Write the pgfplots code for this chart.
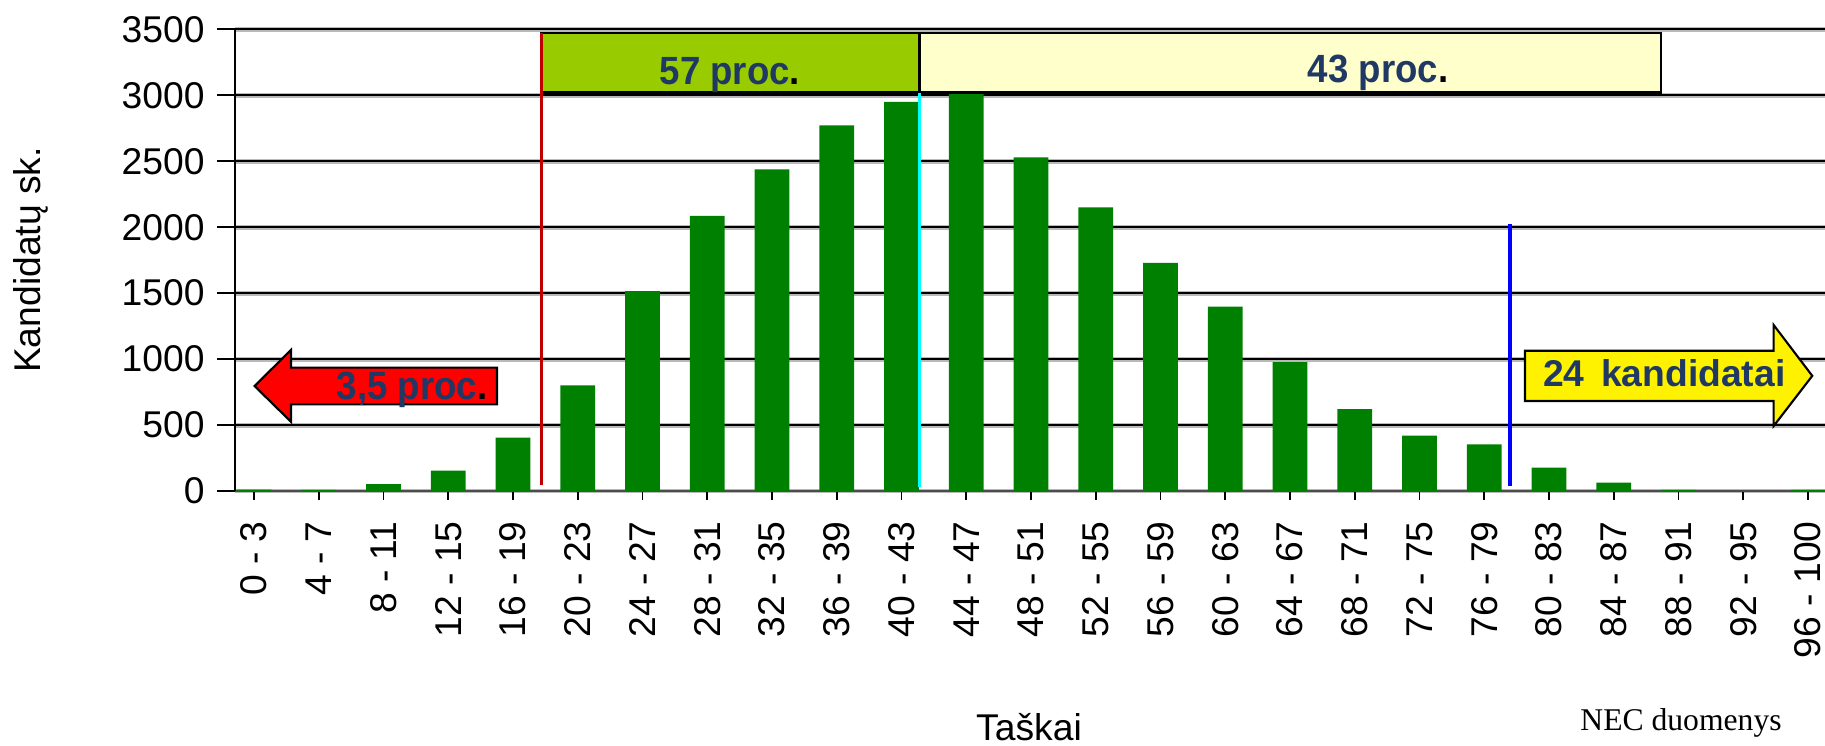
\documentclass[border=0pt]{standalone}
\usepackage{fontspec}
\setmainfont{Liberation Sans}
\newfontfamily\serifnec{Liberation Serif}
\newfontfamily\annfont[FakeStretch=0.93]{Liberation Sans}
\usepackage{pgfplots}
\pgfplotsset{compat=1.18}
\definecolor{bargreen}{HTML}{008000}
\definecolor{navy}{HTML}{1F3864}
\definecolor{boxgreen}{HTML}{99CC00}
\definecolor{boxyellow}{HTML}{FFFFCC}
\definecolor{darkred}{HTML}{C00000}
\definecolor{brightcyan}{HTML}{00FFFF}
\begin{document}
\begin{tikzpicture}
\useasboundingbox (0,0) rectangle (182.5mm,-74.5mm);
\begin{axis}[
  at={(23.5mm,-49.1mm)}, anchor=south west,
  scale only axis, width=159mm, height=46.17mm,
  xmin=-0.2934, xmax=24.263, ymin=0, ymax=3500,
  axis x line*=bottom, axis y line*=left,
  x axis line style={draw=black!70, line width=0.8pt, -},
  y axis line style={draw=black, line width=0.45pt, -},
  ymajorgrids,
  major grid style={draw=black, line width=0.6pt, preaction={draw=gray!55, line width=1.4pt}},
  ytick={0,500,1000,1500,2000,2500,3000,3500},
  yticklabels={0,500,1000,1500,2000,2500,3000,3500},
  xtick={0,...,24},
  xticklabels={0 - 3,4 - 7,8 - 11,12 - 15,16 - 19,20 - 23,24 - 27,28 - 31,32 - 35,36 - 39,40 - 43,44 - 47,48 - 51,52 - 55,56 - 59,60 - 63,64 - 67,68 - 71,72 - 75,76 - 79,80 - 83,84 - 87,88 - 91,92 - 95,96 - 100},
  tick align=outside, major tick length=1.8mm,
  xtick style={/pgfplots/major tick length=0.9mm},
  tick style={black, line width=0.5pt},
  xticklabel style={rotate=90, anchor=east, font=\fontsize{10.6}{12}\selectfont},
  yticklabel style={font=\fontsize{10.6}{12}\selectfont},
  clip=false,
]
\addplot[ybar, fill=bargreen, draw=none, bar width=0.54] coordinates {
(0,10) (1,8) (2,53) (3,154) (4,405) (5,800) (6,1515) (7,2086) (8,2439) (9,2772)
(10,2950) (11,3020) (12,2530) (13,2150) (14,1730) (15,1397) (16,977) (17,620)
(18,420) (19,354) (20,177) (21,63) (22,8) (23,0) (24,8)};
% boxes
\draw[fill=boxgreen, draw=black, line width=0.7pt] (axis cs:4.443,3020) rectangle (axis cs:10.28,3474);
\draw[fill=boxyellow, draw=black, line width=0.7pt] (axis cs:10.28,3020) rectangle (axis cs:21.73,3474);
% vertical lines
\draw[darkred, line width=0.9pt] (axis cs:4.443,45) -- (axis cs:4.443,3474);
\draw[brightcyan, line width=1pt] (axis cs:10.28,30) -- (axis cs:10.28,3020);
\draw[blue, line width=1.1pt] (axis cs:19.40,40) -- (axis cs:19.40,2024);
% arrows
\draw[fill=red, draw=black, line width=0.6pt, line join=miter]
  (axis cs:0.008,796) -- (axis cs:0.571,1069) -- (axis cs:0.571,935) -- (axis cs:3.753,935)
  -- (axis cs:3.753,657) -- (axis cs:0.571,657) -- (axis cs:0.571,525) -- cycle;
\draw[fill=yellow, draw=black, line width=0.6pt, line join=miter]
  (axis cs:19.63,1063.6) -- (axis cs:23.47,1063.6) -- (axis cs:23.47,1258.4) -- (axis cs:24.066,873)
  -- (axis cs:23.47,492.8) -- (axis cs:23.47,682.3) -- (axis cs:19.63,682.3) -- cycle;
% texts
\node[anchor=base, inner sep=0pt, font=\annfont\bfseries\fontsize{11.2}{13}\selectfont] at (axis cs:7.351,3085) {\color{navy}57 proc\color{black}.};
\node[anchor=base, inner sep=0pt, font=\annfont\bfseries\fontsize{11.2}{13}\selectfont] at (axis cs:17.36,3100) {\color{navy}43 proc\color{black}.};
\node[anchor=base, inner sep=0pt, font=\annfont\bfseries\fontsize{11.2}{13}\selectfont] at (axis cs:2.44,690) {\color{navy}3,5 proc\color{black}.};
\node[anchor=base, inner sep=0pt, font=\bfseries\fontsize{10.6}{12}\selectfont, text=navy] at (axis cs:21.78,791) {24\hspace{0.45em}kandidatai};
\end{axis}
\begin{scope}[x=0.1mm, y=-0.1mm]
\node[rotate=90, anchor=base, inner sep=0pt, font=\fontsize{10.6}{12}\selectfont] at (40,260) {Kandidatų sk.};
\node[anchor=base, inner sep=0pt, font=\fontsize{10.6}{12}\selectfont] at (1029,740) {Taškai};
\node[anchor=base, inner sep=0pt, font=\serifnec\fontsize{9}{11}\selectfont] at (1681,730) {NEC duomenys};
\end{scope}
\end{tikzpicture}
\end{document}
